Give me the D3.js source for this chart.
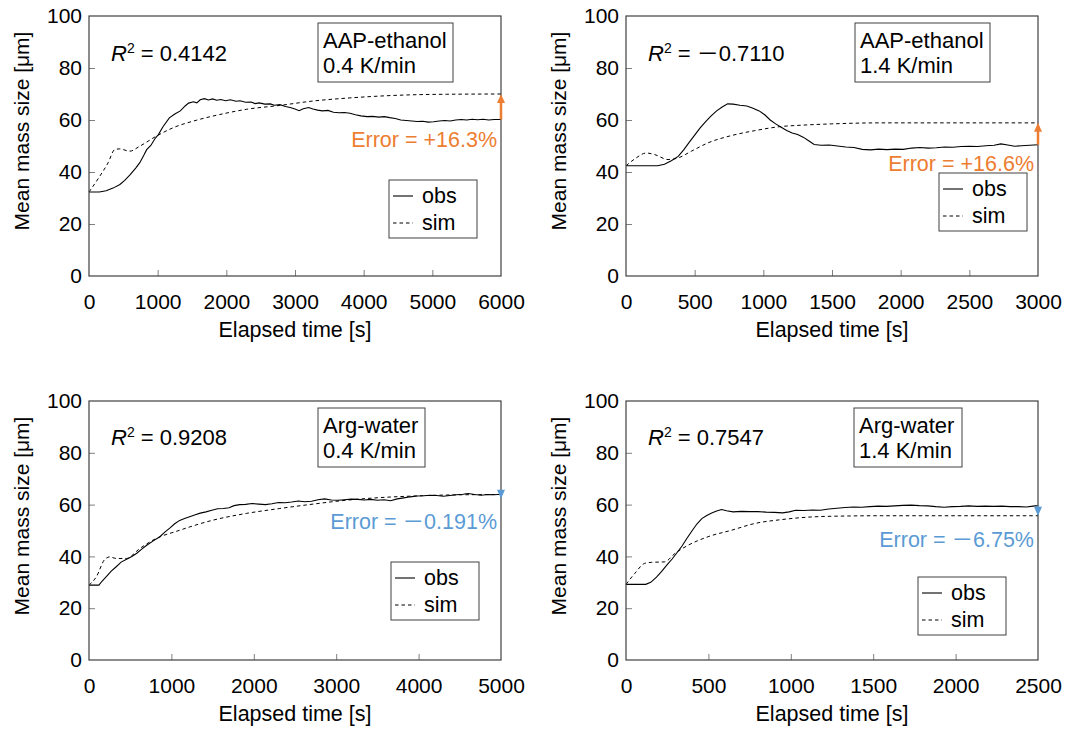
<!DOCTYPE html>
<html>
<head>
<meta charset="utf-8">
<script src="https://cdn.jsdelivr.net/npm/d3@7"></script>
<style>
body { margin: 0; background: #fff; }
svg text { font-family: "Liberation Sans", Arial, "Noto Sans CJK JP", sans-serif; fill: #000; }
.frame { fill: none; stroke: #404040; stroke-width: 1.2; }
.tick line { stroke: #7f7f7f; }
.obs { fill: none; stroke: #000; stroke-width: 1.1; }
.sim { fill: none; stroke: #000; stroke-width: 1; stroke-dasharray: 3.5,3; }
.box { fill: #fff; stroke: #404040; stroke-width: 1; }
</style>
</head>
<body>
<div id="chart"></div>
<script>
// ---- data ----

// AAP-ethanol, 0.4 K/min
var aapSlowObsT = [0,150,250,350,450,520,600,680,740,800,840,900,960,1010,1080,1170,1250,1330,1400,1450,1520,1570,1620,1680,1740,1800,1860,1920,1990,2060,2140,2200,2280,2360,2420,2480,2560,2640,2700,2780,2860,2930,3000,3060,3120,3200,3260,3330,3400,3480,3560,3640,3720,3800,3880,3960,4050,4130,4220,4300,4380,4460,4540,4620,4700,4780,4860,4940,5020,5100,5180,5260,5340,5420,5500,5580,5660,5740,5820,5900,6000];
var aapSlowObsV = [32.3,32.3,32.8,33.8,35.2,36.8,39.0,41.5,43.6,46.5,48.6,50.2,52.8,54.4,57.5,60.8,62.3,63.5,65.4,66.5,67.0,66.6,67.8,68.2,67.7,68.1,67.6,67.9,67.4,67.8,67.2,67.4,66.8,66.9,66.3,66.6,66.1,66.2,65.7,65.9,65.2,64.8,64.2,63.6,64.3,64.8,64.2,63.8,63.5,63.7,63.0,62.8,62.9,62.6,62.0,61.6,61.3,61.4,61.1,61.3,60.9,60.6,60.0,59.8,59.6,59.4,59.5,59.2,59.3,59.6,59.8,59.6,60.0,60.2,60.0,60.3,60.1,60.3,60.0,60.2,60.2];
var aapSlowSimT = [0,155,277,374,447,592,738,981,1223,1563,1903,2291,2777,3262,3748,4233,4718,5204,6000];
var aapSlowSimV = [32.3,38.3,43.5,48.6,48.9,48.0,49.9,53.8,57.0,59.9,62.1,64.1,65.6,67.3,68.4,69.2,69.7,69.9,70.0];

// AAP-ethanol, 1.4 K/min
var aapFastObsT = [0,100,230,280,330,380,420,460,500,540,580,620,660,700,740,780,830,880,920,970,1010,1050,1090,1130,1170,1210,1250,1290,1330,1370,1420,1480,1540,1600,1660,1720,1780,1840,1900,1960,2020,2080,2140,2200,2260,2320,2380,2440,2500,2560,2620,2680,2730,2780,2830,2880,2940,3000];
var aapFastObsV = [42.4,42.4,42.4,43.0,44.3,46.0,48.5,51.4,54.2,57.0,59.4,61.6,63.5,65.0,66.2,66.1,65.7,65.4,64.6,63.5,62.0,60.0,58.5,57.2,56.0,55.0,54.4,53.4,52.0,50.6,50.3,50.4,50.0,49.6,49.4,48.7,48.5,48.8,48.6,48.8,48.7,49.2,49.4,49.2,49.3,49.6,49.5,49.8,49.9,49.8,50.1,50.3,50.8,50.4,49.9,50.1,50.3,50.5];
var aapFastSimT = [0,63,148,209,306,379,476,597,767,937,1131,1277,1495,1859,2345,3000];
var aapFastSimV = [42.4,45.0,47.3,46.7,44.8,45.4,48.0,51.2,54.0,55.9,57.5,58.0,58.5,58.9,58.9,58.9];

// Arg-water, 0.4 K/min
var argSlowObsT = [0,120,160,210,270,330,390,450,520,580,640,700,780,860,920,980,1040,1100,1160,1230,1290,1350,1420,1490,1560,1630,1700,1760,1830,1900,1980,2060,2140,2220,2300,2380,2460,2540,2620,2700,2780,2860,2940,3020,3100,3180,3260,3340,3420,3500,3580,3660,3740,3820,3900,3980,4060,4140,4220,4300,4380,4460,4540,4600,4680,4760,4840,4920,5000];
var argSlowObsV = [28.9,28.9,30.5,32.2,34.3,36.0,37.8,38.8,40.0,41.2,42.8,44.3,46.0,47.6,49.4,50.9,52.6,53.9,54.6,55.4,56.1,56.7,57.2,57.8,58.4,58.5,58.8,59.6,60.0,60.1,60.4,60.2,60.0,60.3,60.8,60.7,61.0,61.4,61.1,61.3,61.9,62.2,61.8,61.7,61.9,62.1,62.0,61.8,62.0,61.7,61.9,61.5,62.2,62.6,63.0,63.3,63.4,63.6,63.5,63.2,63.5,63.8,64.0,64.3,63.9,63.6,63.9,63.8,64.0];
var argSlowSimT = [0,89,190,251,332,453,615,777,1101,1506,1911,2316,2721,3126,3530,3935,4340,5000];
var argSlowSimV = [28.9,32.1,38.8,39.8,39.2,39.2,43.0,46.3,50.1,54.0,56.6,58.5,60.2,61.7,62.7,63.3,63.7,63.9];

// Arg-water, 1.4 K/min
var argFastObsT = [0,60,120,150,185,215,250,280,310,340,370,400,430,460,490,520,550,580,610,650,700,750,800,850,900,950,990,1030,1080,1130,1180,1230,1280,1330,1380,1430,1480,1530,1580,1630,1680,1730,1780,1830,1880,1930,1980,2030,2080,2130,2180,2230,2280,2330,2380,2430,2470,2500];
var argFastObsV = [29.2,29.2,29.2,30.0,32.0,34.1,36.8,39.0,41.5,44.0,47.0,49.8,52.5,54.6,55.8,56.8,57.5,58.1,57.6,57.2,57.4,57.3,57.3,57.1,57.0,56.8,57.2,57.8,57.7,57.9,57.8,58.3,58.6,58.9,59.1,59.0,59.2,59.4,59.3,59.5,59.7,59.8,59.6,59.5,59.2,59.0,59.2,59.3,59.5,59.3,59.4,59.3,59.4,59.2,59.2,59.1,59.4,59.6];
var argFastSimT = [0,53,113,154,235,296,377,498,640,781,943,1146,1348,1551,2500];
var argFastSimV = [29.2,33.4,37.3,37.7,37.9,41.1,44.3,47.6,50.1,52.7,54.2,55.3,55.6,55.7,55.7];

// texts
var systemNames = ["AAP-ethanol", "AAP-ethanol", "Arg-water", "Arg-water"];
var rateNames = ["0.4 K/min", "1.4 K/min", "0.4 K/min", "1.4 K/min"];
var r2Texts = [" = 0.4142", " =  －0.7110", " = 0.9208", " = 0.7547"];
var errorTexts = ["Error = +16.3%", "Error = +16.6%", "Error = －0.191%", "Error = －6.75%"];
var xMaxes = [6000, 3000, 5000, 2500];
var xSteps = [1000, 500, 1000, 500];
var yTicks = [0, 20, 40, 60, 80, 100];
var legendNames = ["obs", "sim"];

var obsT = [aapSlowObsT, aapFastObsT, argSlowObsT, argFastObsT];
var obsV = [aapSlowObsV, aapFastObsV, argSlowObsV, argFastObsV];
var simT = [aapSlowSimT, aapFastSimT, argSlowSimT, argFastSimT];
var simV = [aapSlowSimV, aapFastSimV, argSlowSimV, argFastSimV];

var orange = "#ed7d31", blue = "#5b9bd5";
var errColors = [orange, orange, blue, blue];

// layout of each panel (pixels)
var layout = [
    {left: 89,  top: 16,  w: 412, h: 260, boxX: 229, boxW: 135, legX: 300, legY: 164, errY: 131, r2Y: 45},
    {left: 626, top: 16,  w: 412, h: 260, boxX: 229, boxW: 135, legX: 313, legY: 157, errY: 155, r2Y: 45},
    {left: 89,  top: 401, w: 412, h: 259, boxX: 229, boxW: 107, legX: 302, legY: 161, errY: 128, r2Y: 44},
    {left: 626, top: 401, w: 412, h: 259, boxX: 228, boxW: 108, legX: 292, legY: 176, errY: 146, r2Y: 44}
];

var svg = d3.select("#chart").append("svg")
    .attr("width", 1067)
    .attr("height", 729);

function drawPanel(i) {
    var p = layout[i];
    var g = svg.append("g").attr("transform", "translate(" + p.left + "," + p.top + ")");

    var xScale = d3.scaleLinear().domain([0, xMaxes[i]]).range([0, p.w]);
    var yScale = d3.scaleLinear().domain([0, 100]).range([p.h, 0]);

    var xAxis = d3.axisBottom(xScale)
        .tickValues(d3.range(0, xMaxes[i] + 1, xSteps[i]))
        .tickFormat(d3.format("d"))
        .tickSize(-6).tickPadding(18);
    var yAxis = d3.axisLeft(yScale)
        .tickValues(yTicks)
        .tickSize(-6).tickPadding(7);

    var gx = g.append("g").attr("class", "x axis")
        .attr("transform", "translate(0," + p.h + ")")
        .call(xAxis);
    var gy = g.append("g").attr("class", "y axis").call(yAxis);
    [gx, gy].forEach(function(a) {
        a.select(".domain").remove();
        a.attr("font-size", 21).attr("font-family", null);
    });
    // no tick marks at the frame edges
    gx.selectAll(".tick line").filter(function(d) { return d === 0 || d === xMaxes[i]; }).remove();
    gy.selectAll(".tick line").filter(function(d) { return d === 0 || d === 100; }).remove();

    // lines
    var obsData = obsT[i].map(function(t, k) { return {t: t, v: obsV[i][k]}; });
    var simData = simT[i].map(function(t, k) { return {t: t, v: simV[i][k]}; });

    var obsLine = d3.line()
        .x(function(d) { return xScale(d.t); })
        .y(function(d) { return yScale(d.v); });
    var simLine = d3.line()
        .x(function(d) { return xScale(d.t); })
        .y(function(d) { return yScale(d.v); })
        .curve(d3.curveMonotoneX);

    g.append("path").datum(simData).attr("class", "sim").attr("d", simLine);
    g.append("path").datum(obsData).attr("class", "obs").attr("d", obsLine);

    g.append("rect").attr("class", "frame")
        .attr("x", 0).attr("y", 0)
        .attr("width", p.w).attr("height", p.h);

    // axis titles
    g.append("text")
        .attr("x", p.w / 2).attr("y", p.h + 61)
        .attr("text-anchor", "middle")
        .attr("font-size", 21.5)
        .text("Elapsed time [s]");
    g.append("text")
        .attr("transform", "translate(-60," + 115 + ") rotate(-90)")
        .attr("text-anchor", "middle")
        .attr("font-size", 21)
        .text("Mean mass size [μm]");

    // R^2
    var r2 = g.append("text").attr("x", 22).attr("y", p.r2Y).attr("font-size", 22);
    r2.append("tspan").attr("font-style", "italic").text("R");
    r2.append("tspan").attr("font-size", 14).attr("dy", -8).text("2");
    r2.append("tspan").attr("dy", 8).text(r2Texts[i]);

    // system label box
    g.append("rect").attr("class", "box")
        .attr("x", p.boxX).attr("y", 7)
        .attr("width", p.boxW).attr("height", 59);
    g.append("text").attr("x", p.boxX + 5).attr("y", 32).attr("font-size", 22).text(systemNames[i]);
    g.append("text").attr("x", p.boxX + 5).attr("y", 57).attr("font-size", 22).text(rateNames[i]);

    // legend
    g.append("rect").attr("class", "box")
        .attr("x", p.legX).attr("y", p.legY)
        .attr("width", 88).attr("height", 58);
    legendNames.forEach(function(name, k) {
        var cy = p.legY + 16 + k * 27;
        g.append("line")
            .attr("class", k === 0 ? "obs" : "sim")
            .attr("x1", p.legX + 4).attr("x2", p.legX + 24)
            .attr("y1", cy).attr("y2", cy);
        g.append("text")
            .attr("x", p.legX + 33).attr("y", cy + 7)
            .attr("font-size", 21.5)
            .text(name);
    });

    // error arrow at the right edge
    var yObs = yScale(obsV[i][obsV[i].length - 1]);
    var ySim = yScale(simV[i][simV[i].length - 1]);
    var dir = ySim > yObs ? 1 : -1;
    var head = 9, half = 4;
    var xa = p.w;
    var tip, base;
    if (Math.abs(ySim - yObs) < head) {
        var mid = (yObs + ySim) / 2;
        base = mid - dir * head / 2;
        tip = mid + dir * head / 2;
    } else {
        tip = ySim;
        base = ySim - dir * head;
        g.append("line")
            .attr("x1", xa).attr("x2", xa)
            .attr("y1", yObs).attr("y2", base)
            .attr("stroke", errColors[i]).attr("stroke-width", 2.5);
    }
    g.append("path")
        .attr("d", "M" + (xa - half) + "," + base + "L" + (xa + half) + "," + base + "L" + xa + "," + tip + "Z")
        .attr("fill", errColors[i]);

    g.append("text")
        .attr("x", p.w - 4).attr("y", p.errY)
        .attr("text-anchor", "end")
        .attr("font-size", 21.5)
        .style("fill", errColors[i])
        .text(errorTexts[i]);
}

for (var i = 0; i < 4; i++) {
    drawPanel(i);
}
</script>
</body>
</html>
